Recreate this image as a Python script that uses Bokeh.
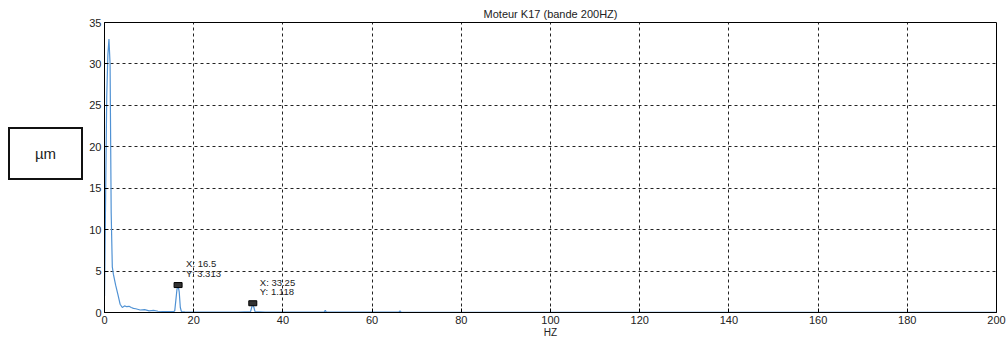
from bokeh.plotting import figure
from bokeh.layouts import row
from bokeh.models import Label, Range1d, FixedTicker, Div
from bokeh.embed import file_html
from bokeh.resources import INLINE

# Amplitude spectrum of motor K17 (0-200 Hz band), displacement in µm
freq_hz = [0.0, 0.25, 0.5, 0.75, 1.0, 1.25, 1.5, 1.75, 2.0, 2.5, 3.0, 3.5, 4.0,
           4.5, 5.0, 5.5, 6.0, 6.5, 7.0, 8.0, 9.0, 10.0, 11.0, 12.0, 14.0, 15.5,
           15.75, 16.0, 16.25, 16.5, 16.75, 17.0, 17.25, 18.0, 20.0, 25.0, 30.0,
           32.75, 33.0, 33.25, 33.5, 33.75, 36.0, 40.0, 49.25, 49.5, 49.75, 60.0,
           66.0, 66.25, 66.5, 80.0, 100.0, 120.0, 140.0, 160.0, 180.0, 200.0]
amp_um = [2.0, 14.0, 26.0, 31.0, 33.0, 30.0, 12.0, 5.5, 4.6, 3.3, 2.2, 1.0, 0.6,
          0.8, 0.7, 0.75, 0.6, 0.5, 0.45, 0.3, 0.35, 0.2, 0.25, 0.15, 0.1, 0.1,
          0.2, 1.5, 2.8, 3.313, 2.5, 0.6, 0.1, 0.08, 0.06, 0.05, 0.05,
          0.1, 0.6, 1.118, 0.6, 0.1, 0.05, 0.04, 0.05, 0.25, 0.05, 0.04,
          0.04, 0.2, 0.04, 0.03, 0.03, 0.03, 0.03, 0.03, 0.03, 0.03]

# Data tips shown on the harmonics
tip_x = [16.5, 33.25]
tip_y = [3.313, 1.118]

x_ticks = [0, 20, 40, 60, 80, 100, 120, 140, 160, 180, 200]
y_ticks = [0, 5, 10, 15, 20, 25, 30, 35]

FONT = "Liberation Sans"

p = figure(width=923, height=341, output_backend="svg", toolbar_location=None,
           x_range=Range1d(0, 200), y_range=Range1d(0, 35),
           min_border_left=20, min_border_right=11,
           min_border_top=22, min_border_bottom=29)

p.title.text = "Moteur K17 (bande 200HZ)"
p.title.align = "center"
p.title.text_font = FONT
p.title.text_font_size = "11px"
p.title.text_font_style = "normal"
p.title.text_color = "#222222"
p.title.standoff = 6

p.outline_line_color = "black"
p.outline_line_width = 1
p.background_fill_color = "white"
p.border_fill_color = "white"

for ax in (p.xaxis[0], p.yaxis[0]):
    ax.major_label_text_font = FONT
    ax.major_label_text_font_size = "11px"
    ax.major_label_text_color = "#222222"
    ax.axis_line_color = "black"
    ax.major_tick_in = 4
    ax.major_tick_out = 0
    ax.minor_tick_in = 0
    ax.minor_tick_out = 0
    ax.major_tick_line_color = "black"

p.xaxis.ticker = FixedTicker(ticks=x_ticks)
p.yaxis.ticker = FixedTicker(ticks=y_ticks)
p.xaxis.major_label_standoff = 3
p.yaxis.major_label_standoff = 3
p.xaxis.axis_label = "HZ"
p.xaxis.axis_label_text_font = FONT
p.xaxis.axis_label_text_font_size = "10px"
p.xaxis.axis_label_text_font_style = "normal"
p.xaxis.axis_label_text_color = "#222222"
p.xaxis.axis_label_standoff = 0

for g in (p.xgrid[0], p.ygrid[0]):
    g.grid_line_color = "#222222"
    g.grid_line_dash = "3 3"
    g.grid_line_width = 1

p.line(freq_hz, amp_um, line_color="#5092d4", line_width=1.2)

p.rect(tip_x, tip_y, width=8, height=5, width_units="screen", height_units="screen",
       fill_color="#333333", line_color="black")

tip_offsets = [(8, 21.5, 11.5), (7, 20.7, 11.7)]
for (tx, ty), (dx, dy1, dy2) in zip(zip(tip_x, tip_y), tip_offsets):
    for txt, dy in ((f"X: {tx:g}", dy1), (f"Y: {ty:.3f}", dy2)):
        p.add_layout(Label(x=tx, y=ty, x_offset=dx, y_offset=dy, text=txt,
                           text_font=FONT, text_font_size="9.5px", text_color="#222222",
                           text_baseline="middle", text_align="left"))

# Unit box to the left of the plot
unit_box = Div(
    text=('<div style="box-sizing:border-box; margin:127px 0 0 8px; width:75px; '
          'height:53px; border:2px solid #111; display:flex; align-items:center; '
          'justify-content:center; font-family:\'Liberation Sans\'; '
          'font-size:15px; color:#222;">µm</div>'),
    width=84, height=341, margin=(0, 0, 0, 0))

layout = row(unit_box, p, spacing=0)

open("out.html", "w").write(file_html(layout, INLINE))
